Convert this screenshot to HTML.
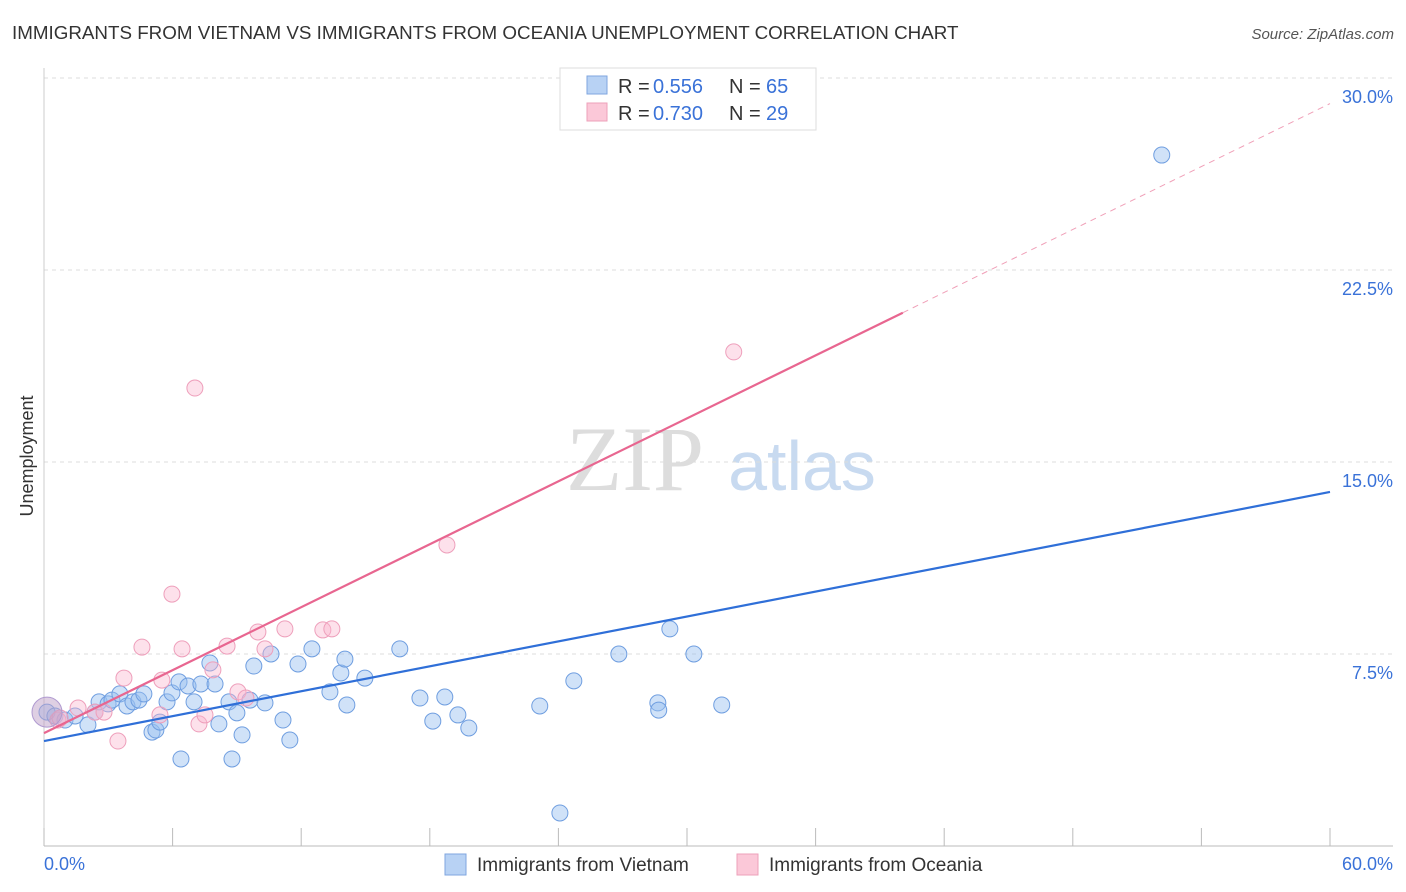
<!DOCTYPE html>
<html><head><meta charset="utf-8">
<style>
body{margin:0;background:#fff;font-family:"Liberation Sans",sans-serif;}
svg{display:block}
</style></head>
<body>
<svg id="chart" width="1406" height="892">
<text x="12" y="39" font-size="18.8" fill="#333">IMMIGRANTS FROM VIETNAM VS IMMIGRANTS FROM OCEANIA UNEMPLOYMENT CORRELATION CHART</text>
<text x="1394" y="39" font-size="15" fill="#555" font-style="italic" text-anchor="end">Source: ZipAtlas.com</text>
<text x="33" y="456" font-size="18" fill="#333" text-anchor="middle" transform="rotate(-90 33 456)">Unemployment</text>
<g>
<text x="635" y="490" font-size="92" fill="#ddd" font-family="Liberation Serif,serif" text-anchor="middle">ZIP</text>
<text x="802" y="490" font-size="70" fill="#c8daf0" text-anchor="middle">atlas</text>
</g>
<g id="grid"></g><g id="marks"></g>
<g>
<rect x="560" y="68" width="256" height="62" fill="#fff" stroke="#ddd"/>
<rect x="587" y="76" width="20" height="18" fill="#b8d2f4" stroke="#7fa6df"/>
<rect x="587" y="103" width="20" height="18" fill="#fbc8d8" stroke="#eea0ba"/>
<text y="93" font-size="20" fill="#333"><tspan x="618">R = </tspan><tspan x="653" fill="#3a72d8">0.556</tspan><tspan x="729">N = </tspan><tspan x="766" fill="#3a72d8">65</tspan></text>
<text y="120" font-size="20" fill="#333"><tspan x="618">R = </tspan><tspan x="653" fill="#3a72d8">0.730</tspan><tspan x="729">N = </tspan><tspan x="766" fill="#3a72d8">29</tspan></text>
</g>
<g>
<rect x="445" y="854" width="21" height="21" fill="#b8d2f4" stroke="#7fa6df"/>
<text x="477" y="871" font-size="19" fill="#333">Immigrants from Vietnam</text>
<rect x="737" y="854" width="21" height="21" fill="#fbc8d8" stroke="#eea0ba"/>
<text x="769" y="871" font-size="19" fill="#333">Immigrants from Oceania</text>
</g>
</svg>
<script>
const yTicks=[7.5,15,22.5,30];
const yTickLabels=["7.5%","15.0%","22.5%","30.0%"];
const xTickVals=[0,6,12,18,24,30,36,42,48,54,60];
const blueX=[0.14,0.51,0.98,1.45,2.05,2.38,2.57,2.99,3.17,3.54,3.87,4.15,4.43,4.66,5.04,5.22,5.41,5.74,5.97,6.30,6.39,6.72,7.00,7.32,7.74,7.98,8.16,8.63,8.77,9.00,9.24,9.61,9.79,10.31,10.59,11.15,11.47,11.85,12.50,13.34,13.85,14.04,14.13,14.97,16.60,17.54,18.14,18.70,19.31,19.82,23.13,24.07,24.72,26.82,28.64,28.68,29.20,30.32,31.62,52.15];
const blueY=[5.23,5.08,4.92,5.08,4.73,5.23,5.63,5.55,5.70,5.94,5.47,5.63,5.70,5.94,4.45,4.53,4.84,5.63,5.98,6.41,3.40,6.25,5.63,6.33,7.15,6.33,4.77,5.63,3.40,5.20,4.34,5.70,7.03,5.59,7.50,4.92,4.14,7.11,7.70,6.02,6.76,7.30,5.51,6.56,7.70,5.78,4.88,5.82,5.12,4.61,5.47,1.29,6.45,7.50,5.59,5.31,8.48,7.50,5.51,26.99];
const pinkX=[0.65,0.75,1.59,2.38,2.80,3.45,3.73,4.57,5.41,5.50,5.97,6.44,7.04,7.23,7.51,7.88,8.54,9.05,9.42,9.98,10.31,11.24,13.01,13.43,18.80,32.18];
const pinkY=[4.92,5.00,5.39,5.23,5.23,4.10,6.56,7.77,5.12,6.48,9.84,7.70,17.89,4.77,5.12,6.88,7.81,6.02,5.78,8.36,7.70,8.48,8.44,8.48,11.76,19.30];
const blueLine=[4.1,13.83];
const pinkLine=[4.41,29.0];
const pinkSolidEnd=40.07;
const X=v=>44+v*1286/60, Y=v=>846-v*25.6;
const NS="http://www.w3.org/2000/svg";
const grid=document.getElementById('grid'),marks=document.getElementById('marks');
function mk(p,tag,a){const e=document.createElementNS(NS,tag);for(const k in a)e.setAttribute(k,a[k]);p.appendChild(e);return e;}
yTicks.forEach((t,i)=>{
 const l=mk(grid,'line',{x1:44,x2:1393,y1:Y(t),y2:Y(t),stroke:'#ddd','stroke-dasharray':'4 4'});
 
 
 const tx=mk(grid,'text',{x:1393,y:Y(t)+25,'font-size':18,fill:'#3a72d8','text-anchor':'end'});tx.textContent=yTickLabels[i];
 
 
});
const ax=mk(grid,'line',{x1:44,x2:1393,y1:846,y2:846,stroke:'#bbb'});


const ay=mk(grid,'line',{x1:44,x2:44,y1:68,y2:846,stroke:'#ccc'});


xTickVals.forEach(t=>{const l=mk(grid,'line',{x1:X(t),x2:X(t),y1:828,y2:846,stroke:'#bbb'});
 
 });
[[0,'0.0%','start',44],[60,'60.0%','end',1393]].forEach(a=>{const t=mk(grid,'text',{x:a[3],y:870,'font-size':18,fill:'#3a72d8','text-anchor':a[2]});t.textContent=a[1];
 
 });
blueX.forEach((x,i)=>{const c=mk(marks,'circle',{cx:X(x),cy:Y(blueY[i]),r:8,fill:'rgba(150,190,240,0.45)',stroke:'#6f9ee0','stroke-width':1});
 
 });
pinkX.forEach((x,i)=>{const c=mk(marks,'circle',{cx:X(x),cy:Y(pinkY[i]),r:8,fill:'rgba(250,180,205,0.4)',stroke:'#ee9fbb','stroke-width':1});
 
 });
const big=mk(marks,'circle',{cx:X(0.14),cy:Y(5.23),r:15,fill:'rgba(190,160,200,0.5)',stroke:'#b09ad0'});


const bl=mk(marks,'line',{x1:X(0),y1:Y(blueLine[0]),x2:X(60),y2:Y(blueLine[1]),stroke:'#2f6fd8','stroke-width':2.2});


const pe=pinkLine[0]+(pinkLine[1]-pinkLine[0])*pinkSolidEnd/60;
const pl=mk(marks,'line',{x1:X(0),y1:Y(pinkLine[0]),x2:X(pinkSolidEnd),y2:Y(pe),stroke:'#e86690','stroke-width':2.2});


const pd=mk(marks,'line',{x1:X(pinkSolidEnd),y1:Y(pe),x2:X(60),y2:Y(pinkLine[1]),stroke:'#f0a0b8','stroke-width':1,'stroke-dasharray':'6 5'});


</script>
</body></html>
